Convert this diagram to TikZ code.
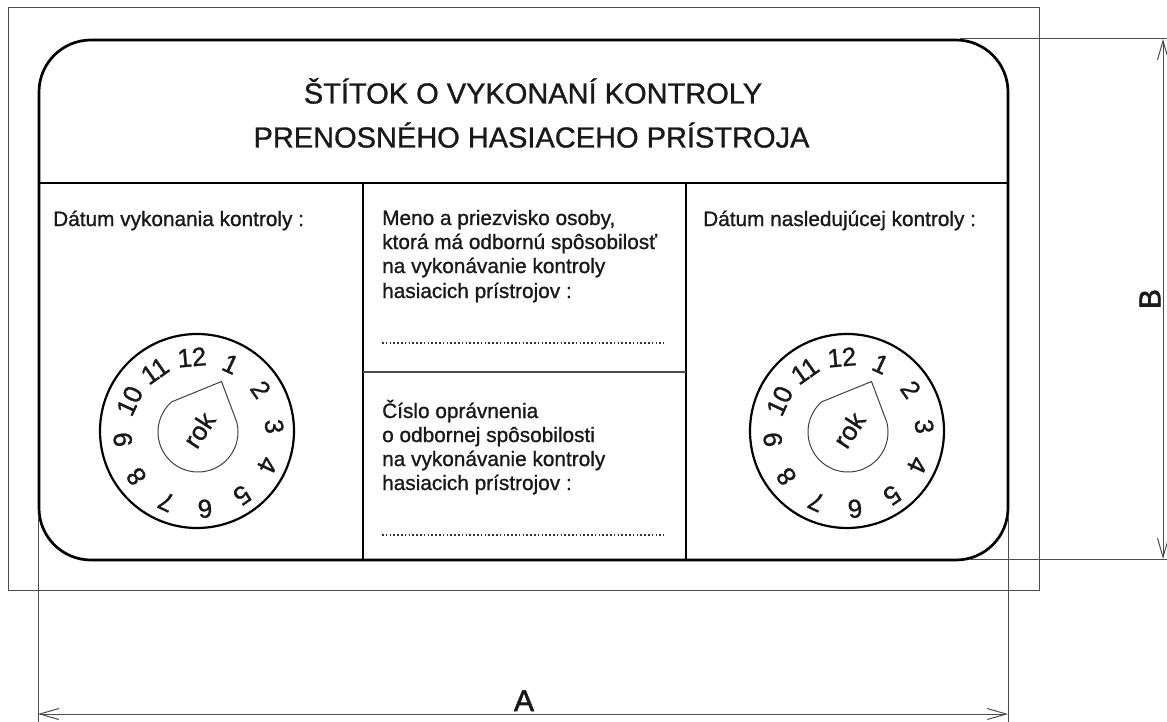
\documentclass[tikz,border=0pt]{standalone}
\usepackage{fontspec}
\setmainfont[FakeBold=1]{Liberation Sans}
\newfontfamily\heavyfont[FakeBold=2]{Liberation Sans}
\usetikzlibrary{arrows.meta}
\tikzset{
  thinline/.style={draw=black!70,line width=1pt},
  cardline/.style={draw=black,line width=2.7pt},
  divider/.style={draw=black,line width=2.2pt},
  dimline/.style={thinline,{Straight Barb[length=19pt,width=11pt]}-{Straight Barb[length=19pt,width=11pt]}},
  lab/.style={inner sep=0pt,anchor=base west,align=left,font=\fontsize{20.8}{24}\selectfont,text=black!90},
  titletext/.style={inner sep=0pt,anchor=base,font=\fontsize{29}{33}\selectfont,text=black!90},
  wheelnum/.style={inner sep=0pt,font=\fontsize{26}{28}\selectfont,text=black!90},
  dimtext/.style={inner sep=0pt,font=\heavyfont\fontsize{30}{32}\selectfont,text=black!90},
  dotline/.style={draw=black!80,line width=1.3pt,dash pattern=on 1.6pt off 2.2pt},
  dropline/.style={draw=black!75,line width=1pt},
}
\newcommand{\mywheel}[2]{%
  \begin{scope}[shift={(#1,#2)}]
    \draw[draw=black,line width=2.2pt] (0,0) circle[radius=97];
    \coordinate (tip) at (24.5,-49.5);
    \draw[dropline] (tip) -- plot[domain=229:-14,samples=70,variable=\t] ({1+40*cos(\t)},{1+40*sin(\t)}) -- cycle;
    \foreach \n in {1,...,12}{
      \pgfmathsetmacro{\ang}{30*\n-5}
      \node[wheelnum,rotate=-\ang] at ({1.5+76*sin(\ang)},{2-76*cos(\ang)}) {\n};
    }
    \node[wheelnum,rotate=57] at (2,-1) {rok};
  \end{scope}}
\begin{document}
\begin{tikzpicture}[x=1pt,y=-1pt]
\useasboundingbox (0,0) rectangle (1167,722);
\fill[white] (0,0) rectangle (1167,722);
% outer sheet
\draw[thinline] (8,8) rectangle (1039,590);
% card
\draw[cardline,rounded corners=52pt] (39,40) rectangle (1008,560);
% dividers
\coordinate (hl) at (39,183); \coordinate (hr) at (1008,183);
\coordinate (v1t) at (363,183); \coordinate (v1b) at (363,560);
\coordinate (v2t) at (686,183); \coordinate (v2b) at (686,560);
\coordinate (ml) at (363,372); \coordinate (mr) at (686,372);
\draw[divider] (hl) -- (hr);
\draw[divider] (v1t) -- (v1b);
\draw[divider] (v2t) -- (v2b);
\draw[thinline,line width=1.4pt] (ml) -- (mr);
% title
\node[titletext] (t1) at (533,103.5) {ŠTÍTOK O VYKONANÍ KONTROLY};
\node[titletext] (t2) at (531.5,147.5) {PRENOSNÉHO HASIACEHO PRÍSTROJA};
% labels
\node[lab] (l1) at (53,226) {Dátum vykonania kontroly :};
\node[lab] (l2) at (703,226) {Dátum nasledujúcej kontroly :};
\node[lab] (m1) at (382,225) {Meno a priezvisko osoby,};
\node[lab] (m2) at (382,249) {ktorá má odbornú spôsobilosť};
\node[lab] (m3) at (382,273) {na vykonávanie kontroly};
\node[lab] (m4) at (382,298) {hasiacich prístrojov :};
\node[lab] (c1) at (382,418) {Číslo oprávnenia};
\node[lab] (c2) at (382,442) {o odbornej spôsobilosti};
\node[lab] (c3) at (382,466) {na vykonávanie kontroly};
\node[lab] (c4) at (382,490) {hasiacich prístrojov :};
\coordinate (d1a) at (382,343); \coordinate (d1b) at (664,343);
\coordinate (d2a) at (382,535); \coordinate (d2b) at (664,535);
\draw[dotline] (d1a) -- (d1b);
\draw[dotline] (d2a) -- (d2b);
% wheels
\mywheel{197}{431}
\mywheel{847}{431}
% dimensions
\coordinate (ea1) at (38,515); \coordinate (ea2) at (38,722);
\coordinate (eb1) at (1008,515); \coordinate (eb2) at (1008,722);
\coordinate (ec1) at (960,39); \coordinate (ec2) at (1167,39);
\coordinate (ed1) at (970,559); \coordinate (ed2) at (1167,559);
\draw[thinline] (ea1) -- (ea2);
\draw[thinline] (eb1) -- (eb2);
\draw[thinline] (ec1) -- (ec2);
\draw[thinline] (ed1) -- (ed2);
\coordinate (aL) at (38,714); \coordinate (aR) at (1008,714);
\coordinate (bT) at (1163,39); \coordinate (bB) at (1163,559);
\draw[dimline] (aL) -- (aR);
\draw[dimline] (bT) -- (bB);
\node[dimtext,anchor=base] (A) at (524,711) {A};
\node[dimtext,rotate=90] (B) at (1150,299) {B};
\end{tikzpicture}
\end{document}
